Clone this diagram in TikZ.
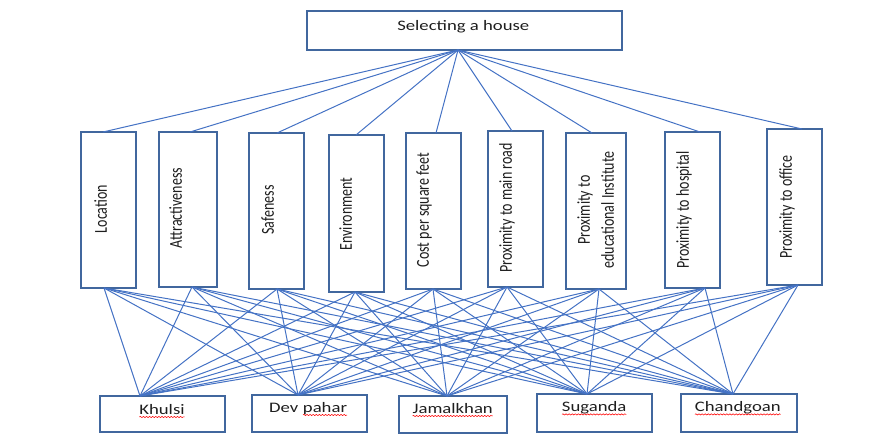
\documentclass[tikz,border=0pt]{standalone}
\usepackage{fontspec}
\setmainfont{Carlito}
\usetikzlibrary{calc,decorations.pathmorphing}
\definecolor{linkblue}{HTML}{4472C4}
\definecolor{boxblue}{HTML}{41679E}
\definecolor{txt}{HTML}{1E1E1E}
\tikzset{
  box/.style={draw=boxblue, line width=1.2pt, inner sep=0pt, outer sep=0pt},
  link/.style={draw=linkblue, line width=1pt},
  htext/.style={inner sep=0pt, anchor=base, text=txt, font=\fontsize{14.5}{17}\selectfont},
  vtext/.style={inner sep=0pt, text=txt, font=\fontsize{14}{18.5}\selectfont},
  spell/.style={draw=red, line width=0.5pt, decorate, decoration={snake, amplitude=0.6pt, segment length=2.4pt}}
}
\newcommand\hx[1]{\scalebox{1.29}[1]{#1}}
\newcommand\vx[1]{\scalebox{1.3}[1]{\rotatebox{90}{\strut #1}}}
\newcommand\vxx[2]{\scalebox{1.3}[1]{\rotatebox{90}{\begin{tabular}{@{}c@{}}#1\\#2\end{tabular}}}}
\newcommand\wavy[1]{\tikz[baseline=(ww.base)]{\node[inner sep=0pt,outer sep=0pt,text=txt](ww){#1};\draw[spell] ([yshift=-2.7pt]ww.base west)--([yshift=-2.7pt]ww.base east);}}
\begin{document}
\begin{tikzpicture}[x=1pt,y=-1pt]
\useasboundingbox (0,0) rectangle (876,438);
% goal
\node[box, minimum width=315pt, minimum height=39pt] (g) at (464.5,30.5) {};
\node[htext] (tg) at (463.3,30.7) {\hx{Selecting a house}};
% criteria
\node[box, minimum width=55pt, minimum height=156pt] (c1) at (108.5,210) {};
\node[box, minimum width=58pt, minimum height=155pt] (c2) at (188,209.5) {};
\node[box, minimum width=55pt, minimum height=156pt] (c3) at (276.5,211) {};
\node[box, minimum width=55pt, minimum height=157pt] (c4) at (356.5,213.5) {};
\node[box, minimum width=55pt, minimum height=156pt] (c5) at (433.5,211) {};
\node[box, minimum width=55pt, minimum height=156pt] (c6) at (515.5,209) {};
\node[box, minimum width=60pt, minimum height=156pt] (c7) at (596,211) {};
\node[box, minimum width=55pt, minimum height=156pt] (c8) at (692.5,210) {};
\node[box, minimum width=55pt, minimum height=156pt] (c9) at (794.5,207) {};
\node[vtext] (t1) at (102,209) {\vx{Location}};
\node[vtext] (t2) at (177,208) {\vx{Attractiveness}};
\node[vtext] (t3) at (269,210) {\vx{Safeness}};
\node[vtext] (t4) at (347,214) {\vx{Environment}};
\node[vtext] (t5) at (424,210) {\vx{Cost per square feet}};
\node[vtext] (t6) at (507,208) {\vx{Proximity to main road}};
\node[vtext] (t7) at (597,210) {\vxx{Proximity to}{educational Institute}};
\node[vtext] (t8) at (684,210) {\vx{Proximity to hospital}};
\node[vtext] (t9) at (787,207) {\vx{Proximity to office}};
% alternatives
\node[box, minimum width=125pt, minimum height=36pt] (a1) at (162.5,414) {};
\node[box, minimum width=115pt, minimum height=37pt] (a2) at (309.5,413.5) {};
\node[box, minimum width=108pt, minimum height=37pt] (a3) at (453,414.5) {};
\node[box, minimum width=115pt, minimum height=38pt] (a4) at (594.5,413) {};
\node[box, minimum width=116pt, minimum height=38pt] (a5) at (739,413) {};
\node[htext] (u1) at (162,414.3) {\hx{\wavy{Khulsi}}};
\node[htext] (u2) at (308.3,412.3) {\hx{Dev \wavy{pahar}}};
\node[htext] (u3) at (452.7,413.3) {\hx{\wavy{Jamalkhan}}};
\node[htext] (u4) at (594.2,411.7) {\hx{\wavy{Suganda}}};
\node[htext] (u5) at (737.8,411.7) {\hx{\wavy{Chandgoan}}};
% connection points
\coordinate (gs) at ([xshift=-6.5pt]g.south);
\foreach \i/\dt/\db in {1/-5.5/-4.5, 2/2/4, 3/0.5/0.5, 4/-0.5/-1.5, 5/2.5/-0.5, 6/-3.5/-8.5, 7/-4/3, 8/7.5/12.5, 9/7.5/3.5}{
  \coordinate (ct\i) at ([xshift=\dt pt]c\i.north);
  \coordinate (cb\i) at ([xshift=\db pt]c\i.south);
}
\foreach \j/\d in {1/-22.5, 2/-11.5, 3/-6, 4/-7.5, 5/-6}{
  \coordinate (at\j) at ([xshift=\d pt]a\j.north);
}
% connectors
\foreach \i in {1,...,9}{ \draw[link] (gs) -- (ct\i); }
\foreach \i in {1,...,9}{
  \foreach \j in {1,...,5}{ \draw[link] (cb\i) -- (at\j); }
}
\end{tikzpicture}
\end{document}
